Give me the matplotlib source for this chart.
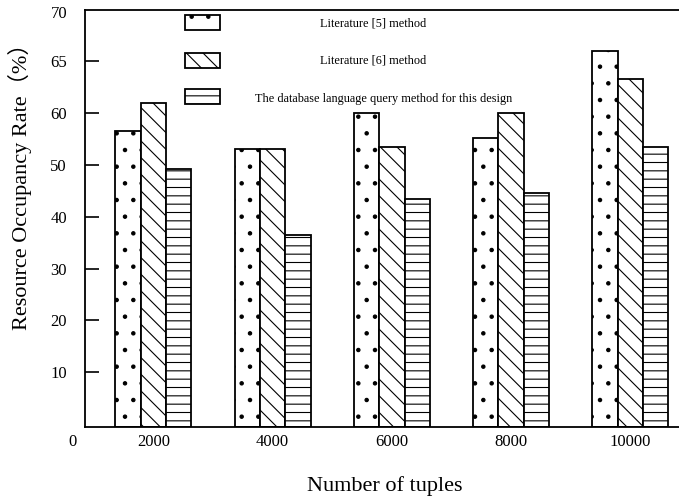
import matplotlib
matplotlib.use("Agg")
import matplotlib.pyplot as plt
from matplotlib.patches import Rectangle
import numpy as np

# ---- data ----
tuples = [2000, 4000, 6000, 8000, 10000]
series_names = ["Literature [5] method",
                "Literature [6] method",
                "The database language query method for this design"]
lit5 = [56.6, 53.2, 60.0, 55.3, 72.0]
lit6 = [62.0, 53.2, 53.4, 60.0, 66.6]
design = [49.2, 36.5, 43.4, 44.7, 53.4]
ytick_values = [10, 20, 30, 40, 50, 60, 70]
ytick_labels = ["10", "20", "30", "40", "50", "60", "65"]

plt.rcParams['font.family'] = ['Liberation Serif', 'Noto Sans CJK SC']
plt.rcParams['hatch.linewidth'] = 0.8

W, H = 679, 500
fig = plt.figure(figsize=(W / 100, H / 100), dpi=100)
ax_l, ax_r, ax_t, ax_b = 85, 700, 10, 427
ax = fig.add_axes([ax_l / W, 1 - ax_b / H, (ax_r - ax_l) / W, (ax_b - ax_t) / H])

y0 = -0.56
ax.set_xlim(855, 11167)
ax.set_ylim(y0, 79.94)

bw = 425
hatches = ['.', '\\\\', '--']
x = np.array(tuples, dtype=float)
for i, (vals, h) in enumerate(zip([lit5, lit6, design], hatches)):
    ax.bar(x + (i - 1) * bw, np.array(vals) - y0, bottom=y0, width=bw,
           facecolor='white', edgecolor='black', linewidth=1.3, hatch=h,
           zorder=2)

for s in ['top', 'bottom', 'left']:
    ax.spines[s].set_linewidth(1.3)
ax.spines['right'].set_visible(False)

ax.set_yticks(ytick_values)
ax.set_yticklabels(ytick_labels, fontsize=12)
ax.tick_params(axis='y', direction='in', length=10, width=1.2, pad=13)
ax.set_xticks(tuples)
ax.set_xticklabels([str(t) for t in tuples], fontsize=12)
ax.tick_params(axis='x', length=0, pad=5)

# extra axis labels
fig.text(68 / W, 1 - 14 / H, "70", ha='right', va='center', fontsize=12)
fig.text(72.7 / W, 1 - 441.7 / H, "0", ha='center', va='center', fontsize=12)

fig.text(385 / W, 1 - 486 / H, "Number of tuples", ha='center', va='center',
         fontsize=16)
fig.text(20 / W, 1 - 330 / H, "Resource Occupancy Rate（%）", rotation=90,
         ha='center', va='bottom', fontsize=16)

# manual legend
leg_y = [0.952, 0.8616, 0.7746]
txt_pos = [(0.3821, 0.9688), (0.3821, 0.8777), (0.2764, 0.7866)]
for name, h, yy, (tx, ty) in zip(series_names, hatches, leg_y, txt_pos):
    ax.add_patch(Rectangle((0.1626, yy), 0.0569, 0.036, transform=ax.transAxes,
                           facecolor='white', edgecolor='black', linewidth=1.3,
                           hatch=h, zorder=3, clip_on=False))
    ax.text(tx, ty, name, transform=ax.transAxes, ha='left', va='center',
            fontsize=8.8)

fig.savefig("out.png", dpi=100)
